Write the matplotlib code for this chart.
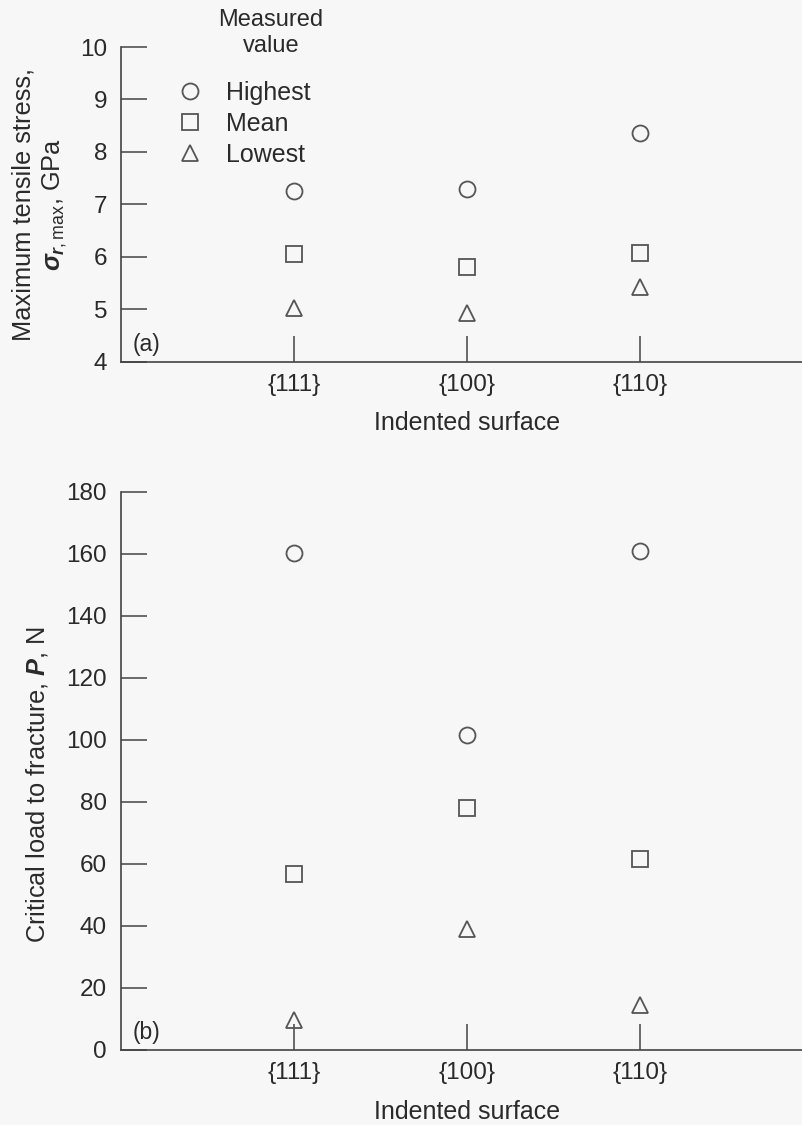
import numpy as np
import matplotlib
matplotlib.use("Agg")
import matplotlib.pyplot as plt

plt.rcParams['font.family'] = ['Liberation Sans', 'DejaVu Sans']
plt.rcParams['mathtext.fontset'] = 'custom'
plt.rcParams['mathtext.rm'] = 'Liberation Sans'
plt.rcParams['mathtext.it'] = 'Liberation Sans:italic:bold'
plt.rcParams['mathtext.bf'] = 'Liberation Sans:bold'

# data
surfaces = ['{111}', '{100}', '{110}']
series = ['Highest', 'Mean', 'Lowest']
markers = ['o', 's', '^']

stress_high = [7.26, 7.29, 8.36]
stress_mean = [6.06, 5.80, 6.08]
stress_low = [5.02, 4.93, 5.43]

load_high = [160.3, 101.6, 161.1]
load_mean = [56.8, 78.0, 61.6]
load_low = [9.8, 39.0, 14.5]

BG = '#f7f7f7'
INK = '#2a2a2a'
MK = '#555555'

fig = plt.figure(figsize=(8.02, 11.25), dpi=100, facecolor=BG)
W, H = 802, 1125
x0 = 121
ax_a = fig.add_axes([x0 / W, 1 - 362 / H, 1 - x0 / W, (362 - 47) / H])
ax_b = fig.add_axes([x0 / W, 1 - 1050 / H, 1 - x0 / W, (1050 - 492) / H])

xpos = np.arange(1, len(surfaces) + 1)


def style(ax):
    ax.set_facecolor(BG)
    for s in ['top', 'right']:
        ax.spines[s].set_visible(False)
    for s in ['left', 'bottom']:
        ax.spines[s].set_color('#444444')
        ax.spines[s].set_linewidth(1.2)
    ax.tick_params(direction='in', length=18.5, width=1.1, color='#444444',
                   labelsize=17.5, labelcolor=INK)
    ax.tick_params(axis='y', pad=10)
    ax.tick_params(axis='x', pad=9)
    ax.set_xlim(0, (W - x0) / 173)
    ax.set_xticks(xpos)
    ax.set_xticklabels(surfaces)
    ax.set_xlabel('Indented surface', fontsize=18, color=INK, va='top')


for ax, vals in [(ax_a, [stress_high, stress_mean, stress_low]),
                 (ax_b, [load_high, load_mean, load_low])]:
    style(ax)
    for name, m, v in zip(series, markers, vals):
        ax.plot(xpos, v, linestyle='none', marker=m, markersize=11.5,
                markerfacecolor='none', markeredgecolor=MK,
                markeredgewidth=1.3, label=name, clip_on=False)

ax_a.set_ylim(4, 10)
ax_a.set_yticks(range(4, 11))
ax_b.set_ylim(0, 180)
ax_b.set_yticks(range(0, 181, 20))

ax_a.set_ylabel('Maximum tensile stress,\n' + r'$\sigma_{r,\mathrm{max}}$, GPa',
                fontsize=18.3, color=INK, linespacing=1.25)
ax_a.yaxis.set_label_coords((69 - x0) / (W - x0), 0.5)
ax_b.set_ylabel(r'Critical load to fracture, $P$, N', fontsize=18.3, color=INK)
ax_b.yaxis.set_label_coords((50 - x0) / (W - x0), (1050 - 784) / (1050 - 492))

ax_a.xaxis.set_label_coords(0.508, (362 - 411) / (362 - 47))
ax_b.xaxis.set_label_coords(0.508, (1050 - 1100) / (1050 - 492))

ax_a.text(12 / (W - x0), 17 / (362 - 47), '(a)', transform=ax_a.transAxes,
          fontsize=16.5, color=INK, va='center', ha='left')
ax_b.text(12 / (W - x0), 18 / (1050 - 492), '(b)', transform=ax_b.transAxes,
          fontsize=16.5, color=INK, va='center', ha='left')

leg = ax_a.legend(loc='upper left', bbox_to_anchor=(177 / W, 1 - 81 / H),
                  bbox_transform=fig.transFigure, frameon=False,
                  fontsize=18, handlelength=1.0, handletextpad=0.94,
                  labelspacing=0.27, borderpad=0, borderaxespad=0)
for t in leg.get_texts():
    t.set_color(INK)

fig.text(271 / W, 1 - 33 / H, 'Measured\nvalue', ha='center', va='center',
         fontsize=17, color=INK, linespacing=1.25)

fig.savefig('out.png', dpi=100, facecolor=BG)
